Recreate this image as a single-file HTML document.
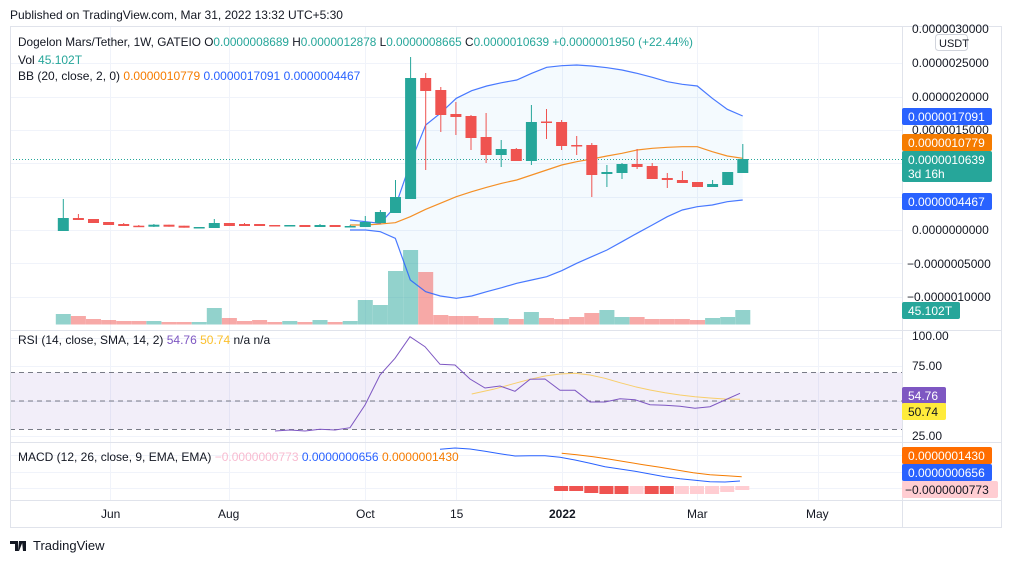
<!DOCTYPE html>
<html><head><meta charset="utf-8"><style>
body{margin:0;background:#fff;width:1012px;height:563px;overflow:hidden;font-family:"Liberation Sans",sans-serif}
svg text{font-family:"Liberation Sans",sans-serif}
</style></head><body>
<svg id="s" width="1012" height="563" xmlns="http://www.w3.org/2000/svg">
<rect width="1012" height="563" fill="#fff"/>
<text x="10" y="19" font-size="12" fill="#131722">Published on TradingView.com, Mar 31, 2022 13:32 UTC+5:30</text>
<g id="grid" stroke="#f0f3fa" stroke-width="1"></g>
<g id="main"></g>
<rect x="10.5" y="26.5" width="991" height="501" fill="none" stroke="#e0e3eb"/>
<line x1="902.5" y1="26" x2="902.5" y2="527" stroke="#e0e3eb"/>
<line x1="10" y1="330.5" x2="1001" y2="330.5" stroke="#e0e3eb"/>
<line x1="10" y1="442.5" x2="1001" y2="442.5" stroke="#e0e3eb"/>
<line x1="10" y1="500.5" x2="1001" y2="500.5" stroke="#e0e3eb"/>
<g font-size="12" fill="#131722">
<text x="18" y="46" textLength="675" lengthAdjust="spacingAndGlyphs">Dogelon Mars/Tether, 1W, GATEIO <tspan>O</tspan><tspan fill="#26a69a">0.0000008689</tspan> H<tspan fill="#26a69a">0.0000012878</tspan> L<tspan fill="#26a69a">0.0000008665</tspan> C<tspan fill="#26a69a">0.0000010639</tspan> <tspan fill="#26a69a">+0.0000001950 (+22.44%)</tspan></text>
<text x="18" y="64">Vol <tspan fill="#26a69a">45.102T</tspan></text>
<text x="18" y="80">BB (20, close, 2, 0) <tspan fill="#f57c00">0.0000010779</tspan> <tspan fill="#2962ff">0.0000017091</tspan> <tspan fill="#2962ff">0.0000004467</tspan></text>
<text x="18" y="344">RSI (14, close, SMA, 14, 2) <tspan fill="#7e57c2">54.76</tspan> <tspan fill="#fbc02d">50.74</tspan> n/a n/a</text>
<text x="18" y="461">MACD (12, 26, close, 9, EMA, EMA) <tspan fill="#f8bbd0">−0.0000000773</tspan> <tspan fill="#2962ff">0.0000000656</tspan> <tspan fill="#f57c00">0.0000001430</tspan></text>
</g>
<g font-size="12" fill="#131722">
<text x="912" y="33">0.0000030000</text>
<text x="912" y="67">0.0000025000</text>
<text x="912" y="101">0.0000020000</text>
<text x="912" y="134">0.0000015000</text>
<text x="912" y="234">0.0000000000</text>
<text x="907" y="268">−0.0000005000</text>
<text x="907" y="301">−0.0000010000</text>
<text x="912" y="340">100.00</text>
<text x="912" y="370">75.00</text>
<text x="912" y="440">25.00</text>
<text x="101" y="518">Jun</text><text x="218" y="518">Aug</text><text x="356" y="518">Oct</text><text x="450" y="518">15</text><text x="549" y="518" font-weight="bold">2022</text><text x="687" y="518">Mar</text><text x="806" y="518">May</text>
</g>
<rect x="935.5" y="34.5" width="32" height="16" rx="3" fill="#fff" stroke="#d1d4dc"/>
<text x="939" y="47" font-size="11" fill="#131722">USDT</text>
<g font-size="12" fill="#fff">
<rect x="902" y="108" width="90" height="17" rx="2" fill="#2962ff"/><text x="908" y="121">0.0000017091</text>
<rect x="902" y="134" width="90" height="17" rx="2" fill="#f57c00"/><text x="908" y="147">0.0000010779</text>
<rect x="902" y="151" width="90" height="31" rx="2" fill="#26a69a"/><text x="908" y="164">0.0000010639</text><text x="908" y="178">3d 16h</text>
<rect x="902" y="193" width="90" height="17" rx="2" fill="#2962ff"/><text x="908" y="206">0.0000004467</text>
<rect x="902" y="302" width="58" height="17" rx="2" fill="#26a69a"/><text x="908" y="315">45.102T</text>
<rect x="902" y="387" width="44" height="17" rx="2" fill="#7e57c2"/><text x="908" y="400">54.76</text>
<rect x="902" y="403" width="44" height="17" rx="2" fill="#ffeb3b"/><text x="908" y="416" fill="#131722">50.74</text>
<rect x="902" y="447" width="90" height="17" rx="2" fill="#ff6d00"/><text x="908" y="460">0.0000001430</text>
<rect x="902" y="464" width="90" height="17" rx="2" fill="#2962ff"/><text x="908" y="477">0.0000000656</text>
<rect x="902" y="481" width="96" height="17" rx="2" fill="#ffcdd2"/><text x="905" y="494" fill="#131722">−0.0000000773</text>
</g>
<g transform="translate(10,539)"><path d="M0 2h8v10h-3v-7h-5z M9 2h4l-4 10h-1z M12 2h4v10h-3z" fill="#131722"/></g>
<text x="33" y="550" font-size="13" fill="#131722">TradingView</text>
</svg>
<script>
const s=document.getElementById('main'),g=document.getElementById('grid');
const NS='http://www.w3.org/2000/svg';
function el(p,t,a){const e=document.createElementNS(NS,t);for(const k in a)e.setAttribute(k,a[k]);p.appendChild(e);return e}
[63,97,130,163,197,230,263,297].forEach(y=>el(g,'line',{x1:10,x2:902,y1:y+.5,y2:y+.5}));
[338,366,401,436,455,472,488].forEach(y=>el(g,'line',{x1:10,x2:902,y1:y+.5,y2:y+.5}));
[110,229,365,456,562,697,818].forEach(x=>el(g,'line',{x1:x+.5,x2:x+.5,y1:27,y2:500}));
const X=i=>63.3+15.1*i;
const T='#26a69a',R='#ef5350';
const C=[[231,218,199,231],[218,220,214,220],[219,223,219,223],[222,225,222,225],[224,226,223,226],[225.7,226.7,225,227],[226.7,224.7,224,227],[224.7,226.7,224.7,226.7],[225.7,227.7,225.7,227.7],[228,227,227,228],[228,223,219,228],[223,226,223,226],[224,226,223,226],[224,226,224,226],[225,226,225,226.5],[226,225,225,226],[225,227,225,227],[227,225,224,227],[225,227,225,227],[227,226,225,227],
[227,222,216,227],[223,212,210,223],[213,197,180,213],[199,78,57,199],[78,91,73,170],[90,115,87,132],[114,117,102,135],[116,138,115,150],[137,155,113,163],[155,149,140,167],[149,161,148,161],[161,122,105,165],[121.5,122.5,109,139],[122,146,120,150],[145,146,136,155],[145,175,143,197],[174,172,165,187],[173,164,163,179],[164,167,149,169],[166,179,163,179],[178,180,173,188],[180,183,171,183],[182,187,182,187],[187,184,180,187],[185,172,172,185],[173,159,144,173]];
const V=[314,316,319,320,321,321,321,322,322,322,308,318,321,320,322,321,322,320,322,321,300,305,271,250,272,315,316,316,318,318,319,312,318,319,317,313,310,317,317,319,319,319,320,318,317,310];
const P=a=>a.map(p=>[340+p[0]/3,50+p[1]/3]);
const up=P([[30,510],[77,515],[121,520],[166,470],[211,340],[257,225],[301,190],[349,145],[395,122],[440,108],[485,98],[530,90],[575,70],[620,52],[665,47],[710,45],[755,48],[801,53],[846,60],[891,70],[937,82],[982,95],[1027,103],[1072,108],[1117,145],[1162,178],[1208,198]]);
const lo=P([[30,540],[77,540],[121,545],[166,565],[211,690],[257,725],[301,738],[349,745],[395,738],[440,725],[485,713],[530,700],[575,690],[620,680],[665,662],[710,640],[755,620],[801,600],[846,575],[891,550],[937,525],[982,500],[1027,480],[1072,470],[1117,465],[1162,455],[1208,450]]);
const bs=P([[30,525],[77,525],[121,522],[166,518],[211,500],[257,478],[301,460],[349,440],[395,425],[440,412],[485,400],[530,390],[575,375],[620,360],[665,345],[710,335],[755,327],[801,318],[846,310],[891,300],[937,295],[982,292],[1027,290],[1072,290],[1117,305],[1162,318],[1208,325]]);
const pts=a=>a.map(p=>p[0].toFixed(1)+','+p[1].toFixed(1)).join(' ');
el(s,'polygon',{points:pts(up.concat(lo.slice().reverse())),fill:'rgba(33,150,243,0.05)'});
V.forEach((v,i)=>{const c=C[i];el(s,'rect',{x:X(i)-7.5,y:v,width:15,height:324.5-v,fill:c[1]<=c[0]?'rgba(38,166,154,0.5)':'rgba(239,83,80,0.5)'})});
el(s,'polyline',{points:pts(up),fill:'none',stroke:'#2962ff','stroke-width':1.2,opacity:.85});
el(s,'polyline',{points:pts(lo),fill:'none',stroke:'#2962ff','stroke-width':1.2,opacity:.85});
el(s,'polyline',{points:pts(bs),fill:'none',stroke:'#f57c00','stroke-width':1.2,opacity:.85});
el(s,'line',{x1:10,x2:902,y1:159.5,y2:159.5,stroke:'#26a69a','stroke-dasharray':'1 2'});
C.forEach((c,i)=>{const x=X(i),col=c[1]<=c[0]?T:R;el(s,'line',{x1:x,x2:x,y1:c[2],y2:c[3],stroke:col});const t=Math.min(c[0],c[1]),h=Math.max(1.5,Math.abs(c[0]-c[1]));el(s,'rect',{x:x-5.5,y:t,width:11,height:h,fill:col})});
el(s,'rect',{x:10,y:372.5,width:892,height:57,fill:'rgba(126,87,194,0.1)'});
[372.5,401,429.5].forEach(y=>el(s,'line',{x1:10,x2:902,y1:y,y2:y,stroke:'#787b86','stroke-dasharray':'5 4'}));
const Q=a=>a.map(p=>[260+p[0]/3,330+p[1]/3]);
el(s,'polyline',{points:pts(Q([[635,192],[700,178],[765,160],[810,148],[855,138],[900,132],[945,130],[990,135],[1035,145],[1080,158],[1125,170],[1170,180],[1215,188],[1260,195],[1305,200],[1350,204],[1395,207],[1440,208]])),fill:'none',stroke:'#fbc02d','stroke-width':1,opacity:.7});
el(s,'polyline',{points:pts(Q([[45,303],[90,300],[135,303],[180,298],[225,300],[270,293],[315,225],[360,135],[405,85],[450,20],[495,50],[540,103],[585,105],[630,147],[675,174],[720,168],[765,184],[810,148],[855,147],[900,181],[945,181],[990,216],[1035,216],[1080,206],[1125,209],[1170,224],[1215,226],[1260,229],[1305,235],[1350,230],[1395,210],[1440,190]])),fill:'none',stroke:'#7e57c2','stroke-width':1});
el(s,'polyline',{points:pts(Q([[540,358],[585,354],[630,357],[675,364],[720,371],[765,378],[810,377],[855,377],[900,382],[945,390],[990,400],[1035,410],[1080,417],[1125,424],[1170,432],[1215,440],[1260,446],[1305,451],[1350,455],[1395,456],[1440,453]])),fill:'none',stroke:'#2962ff','stroke-width':1});
el(s,'polyline',{points:pts(Q([[905,370],[950,374],[1000,380],[1050,388],[1100,396],[1150,404],[1200,412],[1250,420],[1300,428],[1350,434],[1400,437],[1445,440]])),fill:'none',stroke:'#f57c00','stroke-width':1});
const H=[[33,491,'#ef5350'],[34,491,'#ef5350'],[35,493,'#ef5350'],[36,494,'#ef5350'],[37,494,'#ef5350'],[38,494,'#ffcdd2'],[39,494,'#ef5350'],[40,494,'#ef5350'],[41,494,'#ffcdd2'],[42,494,'#ffcdd2'],[43,494,'#ffcdd2'],[44,492,'#ffcdd2'],[45,490,'#ffcdd2']];
H.forEach(h=>el(s,'rect',{x:X(h[0]+1)-7.5-15.1,y:486,width:14,height:h[1]-486,fill:h[2]}));
</script>
</body></html>
